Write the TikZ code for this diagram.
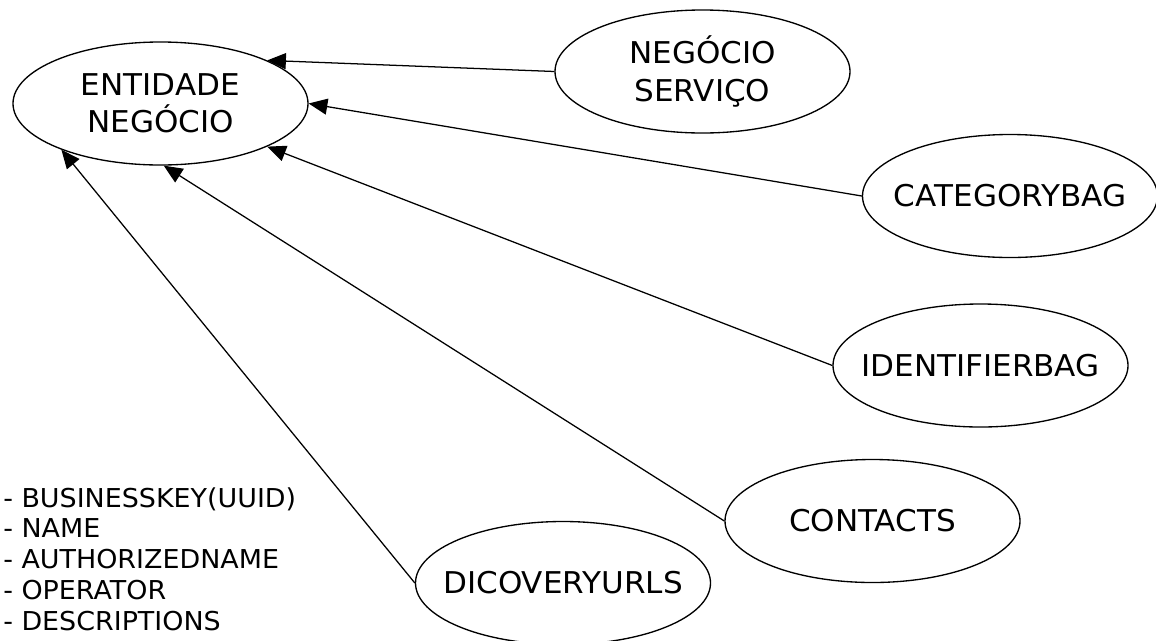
\documentclass[tikz,border=0pt]{standalone}
\usepackage{fontspec}
\setmainfont[FakeStretch=1.035]{DejaVu Sans}
\usetikzlibrary{shapes.geometric,arrows.meta}

\begin{document}
\begin{tikzpicture}[
  x=0.75pt, y=-0.75pt,
  entity/.style={ellipse, draw, line width=1pt, minimum width=221.25pt,
    minimum height=92.25pt, inner sep=0pt},
  etext/.style={align=center, inner sep=0pt,
    font=\fontsize{22.5pt}{28.1pt}\selectfont},
  link/.style={line width=0.95pt, -{Triangle[length=14pt, width=12pt]}},
  attrs/.style={align=left, inner sep=0pt,
    font=\fontsize{19.5pt}{23.06pt}\selectfont}
]
  % canvas
  \fill[white] (0,0) rectangle (1156,640);
  \useasboundingbox (0,0) rectangle (1156,640);

  % entities: fixed-size ellipses with their names centred inside
  \node[entity] (ent) at (160.5,103.5) {};
  \node[etext] (ent-t) at (ent.center) {ENTIDADE\\NEGÓCIO};
  \node[entity] (srv) at (702.5,71.5) {};
  \node[etext] (srv-t) at (srv.center) {NEGÓCIO\\SERVIÇO};
  \node[entity] (cat) at (1010,196) {};
  \node[etext] (cat-t) at (cat.center) {CATEGORYBAG};
  \node[entity] (idb) at (980.5,365.5) {};
  \node[etext] (idb-t) at (idb.center) {IDENTIFIERBAG};
  \node[entity] (con) at (872.5,521) {};
  \node[etext] (con-t) at (con.center) {CONTACTS};
  \node[entity] (dis) at (563,583) {};
  \node[etext] (dis-t) at (dis.center) {DICOVERYURLS};

  % attribute list of the business entity (anchored on its last baseline)
  \node[attrs, anchor=base west] (att) at (3,630)
    {- BUSINESSKEY(UUID)\\- NAME\\- AUTHORIZEDNAME\\- OPERATOR\\- DESCRIPTIONS};

  % associations
  \draw[link] (srv.west) -- (ent.22.1);
  \draw[link] (cat.west) -- (ent.-0.6);
  \draw[link] (idb.west) -- (ent.-22.2);
  \draw[link] (con.west) -- (ent.-87.8);
  \draw[link] (dis.west) -- (ent.-155.6);
\end{tikzpicture}
\end{document}
